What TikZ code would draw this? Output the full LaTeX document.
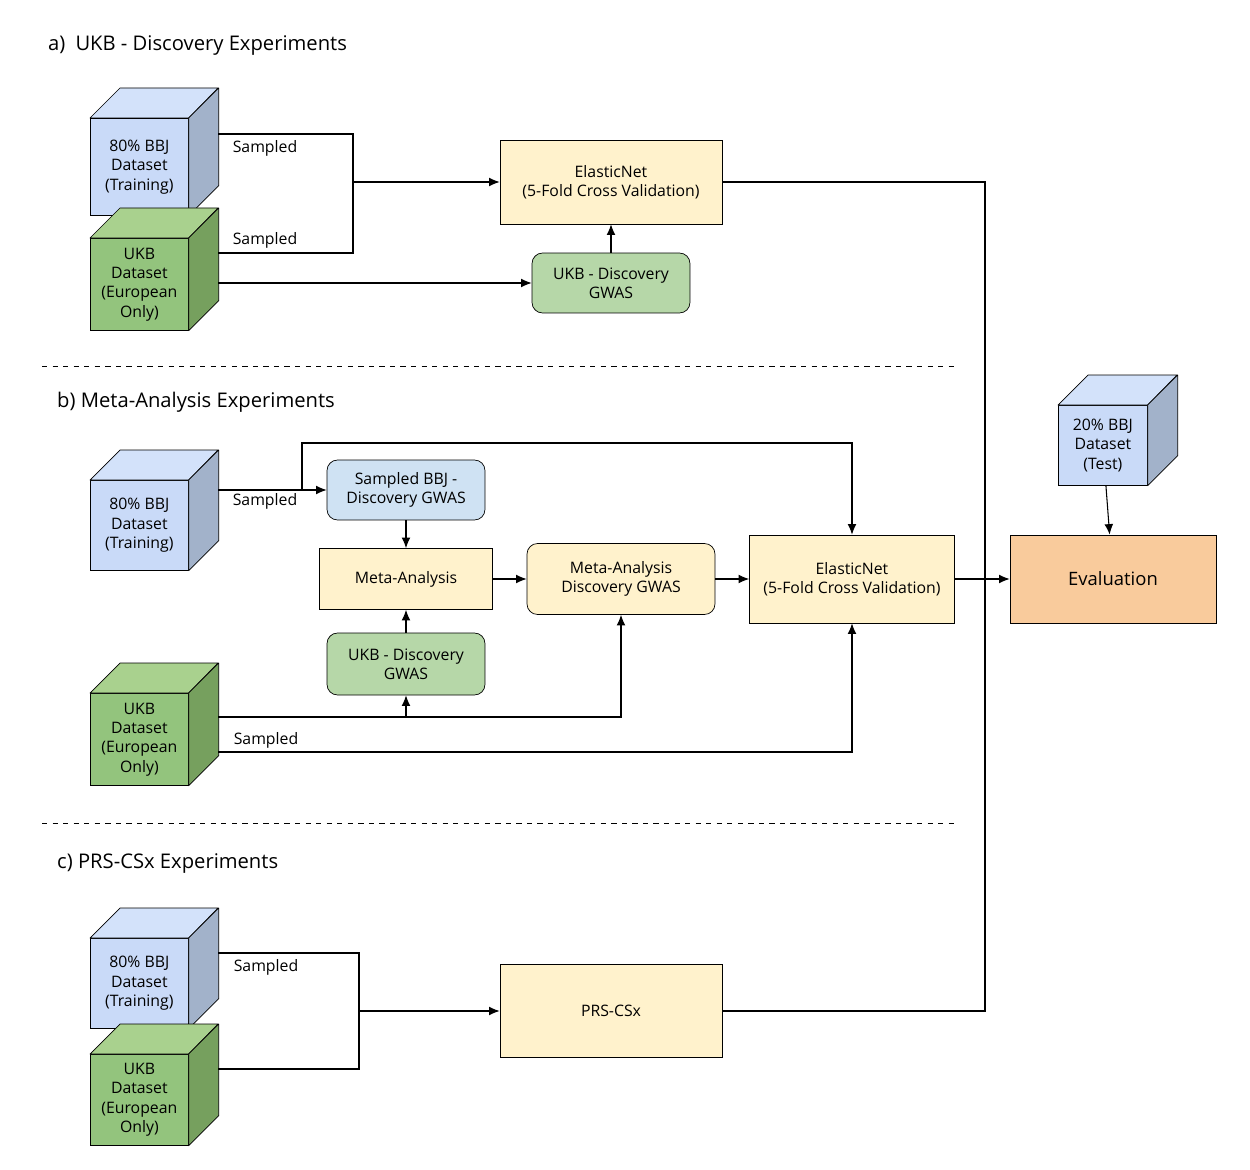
\documentclass[tikz,border=0pt]{standalone}
\usepackage{fontspec}
\setmainfont{Open Sans}
\usetikzlibrary{arrows.meta,calc}
\definecolor{bF}{HTML}{C9DAF8}\definecolor{bT}{HTML}{D3E2FA}\definecolor{bS}{HTML}{A2B2CA}
\definecolor{gF}{HTML}{93C47D}\definecolor{gT}{HTML}{A9D18E}\definecolor{gS}{HTML}{76A05E}
\definecolor{yel}{HTML}{FFF2CC}\definecolor{grn}{HTML}{B6D7A8}\definecolor{blu}{HTML}{CFE2F3}\definecolor{org}{HTML}{F9CB9C}
\newcommand\mycube[7]{%
\node[draw,fill=#6F,anchor=north west,minimum width=#4*0.02cm,minimum height=#5*0.02cm,inner sep=0pt,align=center,font=\fontsize{9}{11}\selectfont] (#1) at (#2,#3) {#7};
\draw[fill=#6T,line join=round] (#1.north west) -- ++(30,-30) -- ++(#4,0) -- (#1.north east) -- cycle;
\draw[fill=#6S,line join=round] (#1.north east) -- ([shift={(30,-30)}]#1.north east) -- ([shift={(30,-30)}]#1.south east) -- (#1.south east) -- cycle;}
\tikzset{box/.style={draw,align=center,inner sep=0pt,font=\fontsize{9}{11}\selectfont},
rbox/.style={box,rounded corners=6pt},
arr/.style={-{Latex[length=6pt,width=5pt]},semithick},
ln/.style={semithick},
lab/.style={font=\fontsize{9}{11}\selectfont},
ttl/.style={anchor=west,font=\fontsize{11.5}{14}\selectfont}}
\begin{document}
\begin{tikzpicture}[x=0.02cm,y=-0.02cm]
\useasboundingbox (0,0) rectangle (1250,1169);
% titles
\node[ttl] (ta) at (42,46) {a)\enspace UKB - Discovery Experiments};
\node[ttl] (tb) at (51,402) {b) Meta-Analysis Experiments};
\node[ttl] (tc) at (51,864) {c) PRS-CSx Experiments};
\draw[dashed] (42,366) coordinate (d1) -- (955,366) coordinate (d2);
\draw[dashed] (42,823) coordinate (d3) -- (955,823) coordinate (d4);
% ---- a
\mycube{bbja}{90}{118}{98}{97}{b}{80\% BBJ\\Dataset\\(Training)}
\mycube{ukba}{90}{238}{98}{92}{g}{UKB\\Dataset\\(European\\Only)}
\node[box,fill=yel,minimum width=4.44cm,minimum height=1.68cm] (ena) at (611,182) {ElasticNet\\(5-Fold Cross Validation)};
\node[rbox,fill=grn,minimum width=3.16cm,minimum height=1.2cm] (gwa) at (611,283) {UKB - Discovery\\GWAS};
\coordinate (a1) at (218,134); \coordinate (a2) at (353,134);
\coordinate (a3) at (353,253); \coordinate (a4) at (218,253);
\coordinate (a5) at (353,182); \coordinate (a6) at (218,283);
\draw[ln] (a1) -- (a2) -- (a3) -- (a4);
\draw[arr] (a5) -- (ena.west);
\draw[arr] (a6) -- (gwa.west);
\draw[arr] (gwa) -- (ena);
\node[lab] (sa1) at (265,148) {Sampled};
\node[lab] (sa2) at (265,240) {Sampled};
% ---- evaluation
\mycube{bbjt}{1058}{405}{89}{80}{b}{20\% BBJ\\Dataset\\(Test)}
\node[box,fill=org,minimum width=4.12cm,minimum height=1.76cm,font=\fontsize{10.5}{12}\selectfont] (ev) at (1113,579) {Evaluation};
\draw[arr] (bbjt) -- (ev);
% ---- b
\mycube{bbjb}{90}{480}{98}{90}{b}{80\% BBJ\\Dataset\\(Training)}
\mycube{ukbb}{90}{693}{98}{92}{g}{UKB\\Dataset\\(European\\Only)}
\node[rbox,fill=blu,minimum width=3.16cm,minimum height=1.2cm] (sbg) at (406,490) {Sampled BBJ -\\Discovery GWAS};
\node[box,fill=yel,minimum width=3.46cm,minimum height=1.22cm] (ma) at (406,579) {Meta-Analysis};
\node[rbox,fill=grn,minimum width=3.16cm,minimum height=1.24cm] (gwb) at (406,664) {UKB - Discovery\\GWAS};
\node[rbox,fill=yel,minimum width=3.76cm,minimum height=1.42cm] (mag) at (621,579) {Meta-Analysis\\Discovery GWAS};
\node[box,fill=yel,minimum width=4.1cm,minimum height=1.76cm] (enb) at (852,579) {ElasticNet\\(5-Fold Cross Validation)};
\coordinate (b1) at (218,490); \coordinate (b2) at (302,490);
\coordinate (b3) at (302,443); \coordinate (b4) at (852,443);
\draw[arr] (b1) -- (sbg.west);
\draw[arr] (b2) -- (b3) -- (b4) -- (enb.north);
\draw[arr] (sbg) -- (ma);
\draw[arr] (gwb) -- (ma);
\draw[arr] (ma) -- (mag);
\draw[arr] (mag) -- (enb);
\coordinate (b5) at (218,717); \coordinate (b6) at (621,717); \coordinate (b7) at (406,717);
\coordinate (b8) at (218,752); \coordinate (b9) at (852,752);
\draw[arr] (b5) -- (b6) -- (mag.south);
\draw[arr] (b7) -- (gwb.south);
\draw[arr] (b8) -- (b9) -- (enb.south);
\node[lab] (sb1) at (265,501) {Sampled};
\node[lab] (sb2) at (266,740) {Sampled};
% ---- c
\mycube{bbjc}{90}{938}{98}{90}{b}{80\% BBJ\\Dataset\\(Training)}
\mycube{ukbc}{90}{1054}{98}{91}{g}{UKB\\Dataset\\(European\\Only)}
\node[box,fill=yel,minimum width=4.44cm,minimum height=1.86cm] (prs) at (611,1011) {PRS-CSx};
\coordinate (c1) at (218,953); \coordinate (c2) at (359,953);
\coordinate (c3) at (359,1069); \coordinate (c4) at (218,1069); \coordinate (c5) at (359,1011);
\draw[ln] (c1) -- (c2) -- (c3) -- (c4);
\draw[arr] (c5) -- (prs.west);
\node[lab] (sc1) at (266,967) {Sampled};
% right trunk
\coordinate (r1) at (985,182); \coordinate (r2) at (985,1011);
\draw[ln] (ena.east) -- (r1) -- (r2) -- (prs.east);
\draw[arr] (enb.east) -- (ev.west);
\end{tikzpicture}
\end{document}
